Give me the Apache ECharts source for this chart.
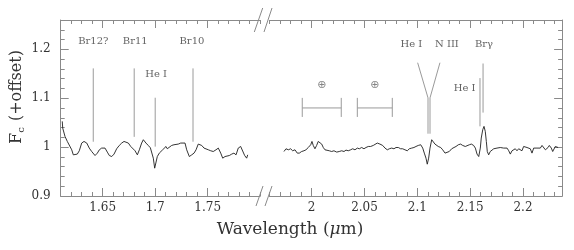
<!DOCTYPE html>
<html><head><meta charset="utf-8">
<script src="https://cdn.jsdelivr.net/npm/echarts@6/dist/echarts.min.js"></script>
<style>html,body{margin:0;padding:0;background:#fff}#c{width:574px;height:250px}</style>
</head><body><div id="c"></div>
<script>
// ---- spectrum, short-wavelength panel (H band) ----
const leftWave = [1.6115,1.6119,1.6141,1.6163,1.6182,1.6205,1.6220,1.6236,1.6258,1.6277,
1.6300,1.6322,1.6348,1.6372,1.6395,1.6410,1.6427,1.6449,1.6468,1.6490,
1.6506,1.6522,1.6544,1.6563,1.6586,1.6608,1.6633,1.6658,1.6681,1.6703,
1.6722,1.6744,1.6767,1.6786,1.6808,1.6830,1.6849,1.6871,1.6887,1.6912,
1.6934,1.6954,1.6967,1.6982,1.6995,1.7008,1.7020,1.7039,1.7052,1.7071,
1.7084,1.7103,1.7115,1.7134,1.7157,1.7179,1.7198,1.7220,1.7243,1.7262,
1.7284,1.7300,1.7325,1.7348,1.7370,1.7389,1.7410,1.7427,1.7443,1.7465,
1.7484,1.7506,1.7529,1.7553,1.7579,1.7601,1.7624,1.7643,1.7665,1.7681,
1.7706,1.7729,1.7750,1.7770,1.7791,1.7814,1.7833,1.7852,1.7871,1.7881];
const leftFlux = [1.0527,1.039,1.0218,1.0116,1.0083,0.9945,0.9842,0.9877,0.9857,0.9925,
1.0083,1.0116,1.0083,0.998,0.991,0.9877,0.9828,0.9877,0.9945,0.998,
1.0013,0.998,0.9898,0.9828,0.9807,0.9857,0.9966,1.0034,1.0083,1.0116,
1.0151,1.0083,1.0013,0.998,0.9925,0.9842,0.9945,1.0083,1.0151,1.0083,
1.0034,0.9986,0.998,0.9774,0.9569,0.9602,0.9807,0.9877,0.9842,0.9945,
0.998,1.0013,0.9966,0.9992,1.0034,1.0048,1.0062,1.0062,1.0083,1.0116,
1.0083,0.9945,0.9807,0.9842,0.9877,0.9945,1.0062,1.0083,1.0034,0.998,
0.9966,0.9945,0.9925,0.991,0.9945,0.998,0.9877,0.9774,0.9807,0.9842,
0.9828,0.9857,0.9877,0.9842,0.998,1.0013,0.998,0.9828,0.9774,0.9842];

// ---- spectrum, long-wavelength panel (K band) ----
const rightWave = [1.9738,1.9757,1.9779,1.9801,1.9820,1.9842,1.9864,1.9883,1.9905,1.9927,
1.9946,1.9968,1.9991,2.0003,2.0015,2.0031,2.0047,2.0062,2.0079,2.0095,
2.0110,2.0126,2.0142,2.0167,2.0189,2.0211,2.0237,2.0261,2.0284,2.0306,
2.0325,2.0346,2.0369,2.0388,2.0410,2.0432,2.0451,2.0473,2.0495,2.0514,
2.0536,2.0558,2.0583,2.0599,2.0621,2.0646,2.0672,2.0694,2.0716,2.0735,
2.0757,2.0779,2.0798,2.0820,2.0842,2.0861,2.0883,2.0905,2.0924,2.0947,
2.0968,2.0987,2.1009,2.1032,2.1051,2.1066,2.1082,2.1094,2.1107,2.1120,
2.1136,2.1151,2.1167,2.1183,2.1198,2.1221,2.1240,2.1262,2.1278,2.1302,
2.1325,2.1347,2.1366,2.1388,2.1410,2.1429,2.1454,2.1470,2.1492,2.1511,
2.1533,2.1549,2.1565,2.1581,2.1596,2.1605,2.1619,2.1631,2.1643,2.1653,
2.1662,2.1675,2.1690,2.1707,2.1723,2.1738,2.1754,2.1770,2.1785,2.1801,
2.1817,2.1832,2.1849,2.1865,2.1880,2.1896,2.1912,2.1927,2.1943,2.1959,
2.1974,2.1990,2.2006,2.2022,2.2038,2.2054,2.2069,2.2085,2.2101,2.2116,
2.2132,2.2148,2.2164,2.2180,2.2196,2.2212,2.2227,2.2237,2.2249,2.2268,
2.2281,2.2294,2.2306,2.2322,2.2332];
const rightFlux = [0.991,0.9966,0.9945,0.9966,0.9925,0.9945,0.9877,0.9877,0.991,0.9925,
0.9945,0.9992,1.0048,1.0116,1.0034,0.9966,1.0034,1.0116,1.013,1.0062,
0.9992,0.9945,0.9925,0.9925,0.991,0.9925,0.9898,0.991,0.9925,0.991,
0.9939,0.9925,0.9945,0.9966,0.9945,0.998,0.9966,0.9992,0.9966,0.9992,
1.0013,1.0013,1.0034,1.0048,1.0083,1.0062,1.0034,0.998,0.9945,0.9966,
0.998,0.9966,0.9992,0.9992,0.9966,0.9966,0.9945,0.9925,0.9966,0.998,
0.9992,1.0013,1.0034,1.0048,0.998,0.9877,0.9774,0.9651,0.9774,0.998,
1.0151,1.0116,1.0062,1.0034,1.0013,0.9992,0.9945,0.9877,0.9857,0.991,
0.9966,0.9992,1.0013,1.0048,1.0062,1.0034,1.0013,0.998,1.0048,1.0062,
1.0034,0.998,0.9857,0.9807,0.998,1.0186,1.0356,1.0424,1.0321,1.0116,
0.991,0.9842,0.991,0.9925,0.9966,0.9992,0.998,0.9966,0.9992,0.9966,
0.998,0.9945,0.998,0.9925,0.9857,0.9925,0.9945,0.9966,0.9925,0.9966,
0.9945,0.9925,1.0013,1.0034,0.9992,1.0013,0.9966,0.9877,0.998,1.0013,
0.998,0.9992,0.998,1.0034,1.0013,0.9945,0.991,0.9992,1.0034,0.998,
0.991,0.9945,1.0013,0.998,0.9992];

// ---- axis ticks / labels ----
const leftXRange = [1.61, 1.80];
const rightXRange = [1.96, 2.237];
const yRange = [0.9, 1.26];
const leftXMajor = [1.65, 1.7, 1.75];
const rightXMajor = [2, 2.05, 2.1, 2.15, 2.2];
const yMajor = [0.9, 1, 1.1, 1.2];

// ---- line identifications, left panel ----
const leftIdNames = ['Br12?', 'Br11', 'He I', 'Br10'];
const leftIdWave = [1.641, 1.680, 1.700, 1.736];
const leftIdTop = [1.161, 1.161, 1.101, 1.161];
const leftIdBottom = [1.011, 1.021, 1.001, 1.011];
const leftIdLabelWave = [1.641, 1.681, 1.7008, 1.735];
const leftIdLabelFlux = [1.216, 1.216, 1.149, 1.216];

// ---- line identifications, right panel ----
const heIArm = [[2.1003, 1.1726], [2.1101, 1.1007], [2.1101, 1.0274]];
const nIIIArm = [[2.1214, 1.1726], [2.1120, 1.1007], [2.1120, 1.0274]];
const brGammaLine = [[2.1622, 1.171], [2.1622, 1.0706]];
const heI2Line = [[2.1593, 1.1412], [2.1593, 1.0425]];
const rightIdNames = ['He I', 'N III', 'Brγ', 'He I'];
const rightIdLabelWave = [2.0944, 2.128, 2.1631, 2.1448];
const rightIdLabelFlux = [1.2103, 1.2103, 1.2103, 1.120];

// ---- telluric regions ----
const telluricStart = [1.9911, 2.0432];
const telluricEnd = [2.0280, 2.0763];
const telluricBarFlux = 1.0801;
const telluricTickTop = 1.1007;
const telluricTickBottom = 1.0617;
const telluricSymbolFlux = 1.126;

const FONT = 'DejaVu Serif';
const AX = '#8a8a8a';
const fmt = v => String(Math.round(v * 100) / 100);

const gridTop = 20, gridH = 176;
const grids = [
  {left: 60.7, top: gridTop, width: 199.5, height: gridH},
  {left: 269.4, top: gridTop, width: 292.7, height: gridH}
];

function xAxes(gi, range, major, pos, withLabels) {
  const base = {type: 'value', gridIndex: gi, min: range[0], max: range[1], position: pos,
    splitLine: {show: false}, interval: 0.01};
  return [
    Object.assign({}, base, {
      axisLine: {show: true, onZero: false, lineStyle: {color: AX, width: 1}},
      axisTick: {show: true, inside: true, length: 4, lineStyle: {color: AX}},
      axisLabel: {show: false}
    }),
    Object.assign({}, base, {
      axisLine: {show: false, onZero: false},
      axisTick: {show: true, inside: true, length: 8, customValues: major, lineStyle: {color: AX}},
      axisLabel: withLabels ? {show: true, customValues: major, formatter: fmt, margin: 6,
        fontFamily: FONT, fontSize: 12, color: '#333'} : {show: false}
    })
  ];
}
function yAxes(gi, pos, withLabels) {
  const base = {type: 'value', gridIndex: gi, min: yRange[0], max: yRange[1], position: pos,
    splitLine: {show: false}, interval: 0.02};
  return [
    Object.assign({}, base, {
      axisLine: {show: true, onZero: false, lineStyle: {color: AX, width: 1}},
      axisTick: {show: true, inside: true, length: 4, lineStyle: {color: AX}},
      axisLabel: {show: false}
    }),
    Object.assign({}, base, {
      axisLine: {show: false, onZero: false},
      axisTick: {show: true, inside: true, length: 8, customValues: yMajor, lineStyle: {color: AX}},
      axisLabel: withLabels ? {show: true, customValues: yMajor, formatter: fmt, margin: 10,
        fontFamily: FONT, fontSize: 12, color: '#333'} : {show: false}
    })
  ];
}

const xAxis = [].concat(
  xAxes(0, leftXRange, leftXMajor, 'bottom', true),   // 0,1
  xAxes(0, leftXRange, leftXMajor, 'top', false),     // 2,3
  xAxes(1, rightXRange, rightXMajor, 'bottom', true), // 4,5
  xAxes(1, rightXRange, rightXMajor, 'top', false)    // 6,7
);
const yAxis = [].concat(
  yAxes(0, 'left', true),   // 0,1
  yAxes(1, 'right', false)  // 2,3
);

const zip = (a, b) => a.map((v, i) => [v, b[i]]);
const series = [];
const annoStyle = {color: '#9a9a9a', width: 1};
function seg(points, panel) {
  series.push({type: 'line', xAxisIndex: panel ? 4 : 0, yAxisIndex: panel ? 2 : 0,
    data: points, showSymbol: false, symbol: 'none', silent: true, animation: false,
    lineStyle: annoStyle, z: 1});
}
// identifications (left)
leftIdWave.forEach((w, i) => seg([[w, leftIdTop[i]], [w, leftIdBottom[i]]], 0));
// identifications (right)
seg(heIArm, 1); seg(nIIIArm, 1); seg(brGammaLine, 1); seg(heI2Line, 1);
// telluric bars
telluricStart.forEach((s, i) => {
  const e = telluricEnd[i];
  seg([[s, telluricBarFlux], [e, telluricBarFlux]], 1);
  seg([[s, telluricTickTop], [s, telluricTickBottom]], 1);
  seg([[e, telluricTickTop], [e, telluricTickBottom]], 1);
});

// spectra
series.push({type: 'line', xAxisIndex: 0, yAxisIndex: 0, data: zip(leftWave, leftFlux),
  showSymbol: false, symbol: 'none', animation: false, lineStyle: {color: '#1e1e1e', width: 0.9}, z: 3});
series.push({type: 'line', xAxisIndex: 4, yAxisIndex: 2, data: zip(rightWave, rightFlux),
  showSymbol: false, symbol: 'none', animation: false, lineStyle: {color: '#1e1e1e', width: 0.9}, z: 3});

// labels
const labelStyle = {show: true, position: 'inside', formatter: '{b}', fontFamily: FONT, fontSize: 10, color: '#3a3a3a'};
series.push({type: 'scatter', xAxisIndex: 0, yAxisIndex: 0, symbolSize: 0, silent: true, animation: false,
  data: leftIdNames.map((n, i) => ({name: n, value: [leftIdLabelWave[i], leftIdLabelFlux[i]]})),
  label: labelStyle});
series.push({type: 'scatter', xAxisIndex: 4, yAxisIndex: 2, symbolSize: 0, silent: true, animation: false,
  data: rightIdNames.map((n, i) => ({name: n, value: [rightIdLabelWave[i], rightIdLabelFlux[i]]})),
  label: labelStyle});
series.push({type: 'scatter', xAxisIndex: 4, yAxisIndex: 2, symbolSize: 0, silent: true, animation: false,
  data: telluricStart.map((s, i) => ({name: '⊕', value: [(s + telluricEnd[i]) / 2, telluricSymbolFlux]})),
  label: Object.assign({}, labelStyle, {fontFamily: 'DejaVu Sans', fontSize: 11, color: '#666'})});

// break marks (decoration) and axis titles
const brk = {stroke: '#8a8a8a', lineWidth: 1};
const graphic = [
  {type: 'line', shape: {x1: 254.3, y1: 32, x2: 262.7, y2: 8}, style: brk, silent: true},
  {type: 'line', shape: {x1: 264, y1: 32, x2: 272, y2: 8}, style: brk, silent: true},
  {type: 'line', shape: {x1: 256, y1: 206, x2: 263, y2: 186}, style: brk, silent: true},
  {type: 'line', shape: {x1: 265, y1: 206, x2: 272, y2: 186}, style: brk, silent: true},
  {type: 'text', x: 290, y: 230, silent: true,
    style: {text: 'Wavelength ({i|μ}m)', fontFamily: FONT, fontSize: 17, fill: '#333',
      align: 'center', verticalAlign: 'middle',
      rich: {i: {fontFamily: FONT, fontSize: 17, fontStyle: 'italic', fill: '#333'}}}},
  {type: 'text', x: 17, y: 97, rotation: Math.PI / 2, silent: true,
    style: {text: 'F{s|c} (+offset)', fontFamily: FONT, fontSize: 16, fill: '#333',
      align: 'center', verticalAlign: 'middle',
      rich: {s: {fontFamily: FONT, fontSize: 10, fill: '#333', padding: [9, 1, 0, 0]}}}}
];

const chart = echarts.init(document.getElementById('c'), null, {renderer: 'canvas'});
chart.setOption({
  animation: false,
  backgroundColor: '#fff',
  grid: grids,
  xAxis: xAxis,
  yAxis: yAxis,
  series: series,
  graphic: graphic
});
</script></body></html>
